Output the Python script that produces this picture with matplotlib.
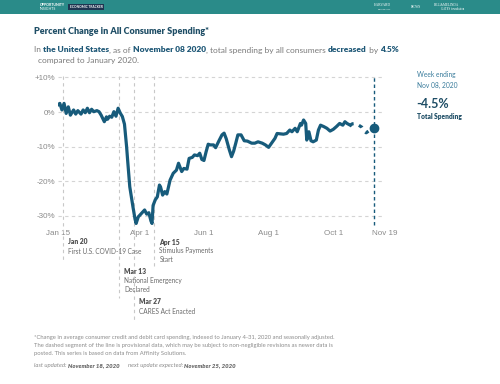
import numpy as np
import pandas as pd
import matplotlib
matplotlib.use('Agg')
import matplotlib.pyplot as plt
from matplotlib.patches import Rectangle

# % change in consumer card spending vs January 2020 (7-day avg), by day of year 2020
days = [15, 17, 19, 21, 23, 25, 27, 30, 32, 34,
        37, 39, 41, 43, 45, 47, 49, 52, 54, 56,
        59, 61, 62, 64, 66, 68, 70, 72, 74, 76,
        78, 80, 81, 83, 86, 88, 89, 91, 94, 97,
        99, 101, 103, 104, 105, 107, 109, 111, 112, 114,
        116, 118, 121, 124, 127, 129, 132, 134, 137, 139,
        142, 144, 147, 149, 151, 153, 155, 157, 159, 162,
        164, 167, 170, 172, 174, 177, 179, 181, 183, 185,
        188, 191, 194, 198, 201, 204, 208, 211, 214, 217,
        220, 222, 225, 228, 231, 234, 236, 239, 241, 244,
        245, 247, 249, 250, 252, 254, 256, 259, 261, 263,
        266, 269, 272, 275, 278, 281, 284, 286, 288, 291]
vals = [2.0, 2.5, 0.6, 2.5, -0.4, 1.5, -0.9, 0.6, -0.6, 0.4,
        -0.6, 0.6, -0.2, 1.1, -0.2, 0.8, 0.1, 0.4, 0.1, -0.9,
        -2.8, -1.4, -2.1, -1.2, -1.5, 0.1, -1.2, 1.1, -0.3, -1.3,
        -3.5, -10.0, -14.0, -21.6, -27.4, -31.0, -32.2, -30.3, -29.3, -28.3,
        -29.5, -29.1, -31.5, -32.2, -27.0, -25.4, -24.5, -21.1, -21.6, -24.0,
        -23.0, -23.7, -19.7, -17.7, -16.8, -14.8, -17.2, -16.3, -16.5, -13.4,
        -13.1, -12.4, -12.6, -11.9, -13.7, -14.0, -11.5, -9.3, -9.5, -9.5,
        -10.3, -8.4, -6.6, -6.1, -7.7, -11.0, -12.9, -11.3, -9.0, -6.6,
        -6.6, -8.3, -8.4, -9.0, -9.0, -8.6, -9.0, -9.5, -10.2, -8.9,
        -7.6, -6.2, -6.3, -6.4, -6.2, -5.2, -5.7, -4.7, -5.7, -3.3,
        -3.8, -2.3, -3.3, -8.1, -5.7, -8.3, -8.6, -8.1, -5.2, -3.8,
        -4.2, -4.7, -5.5, -5.0, -4.2, -3.3, -3.8, -2.8, -3.3, -3.8]
# provisional tail (dashed) ending at the last value
prov_days = [291, 293, 296, 299, 302, 304, 306, 313]
prov_vals = [-3.8, -3.4, -3.3, -3.8, -4.4, -5.4, -6.0, -4.5]
last_date = '2020-11-08'
last_val = -4.5

yticks = [10, 0, -10, -20, -30]
ytick_labels = ['+10%', '0%', '-10%', '-20%', '-30%']
xtick_dates = ['2020-01-15', '2020-04-01', '2020-06-01', '2020-08-01', '2020-10-01', '2020-11-19']
xtick_labels = ['Jan 15', 'Apr 1', 'Jun 1', 'Aug 1', 'Oct 1', 'Nov 19']

event_dates = ['2020-01-20', '2020-03-13', '2020-03-27', '2020-04-15']
event_titles = ['Jan 20', 'Mar 13', 'Mar 27', 'Apr 15']
event_texts = [['First U.S. COVID-19 Case'], ['National Emergency', 'Declared'],
               ['CARES Act Enacted'], ['Stimulus Payments', 'Start']]

base = pd.Timestamp('2019-12-31')
dates = base + pd.to_timedelta(days, unit='D')
prov_dates = base + pd.to_timedelta(prov_days, unit='D')

LINE = '#175b7b'
DARK = '#1f4e66'
GRAY = '#7a7a7a'
TXT = 'Lato'

W, H = 500, 384
fig = plt.figure(figsize=(5, 3.84), dpi=100)
fig.patch.set_facecolor('white')

def fx(px):
    return px / W

def fy(py):
    return 1 - py / H

# axes placement (pixels)
top_px, bot_px = 75.7, 224.5
ax = fig.add_axes([fx(57.7), fy(bot_px), fx(385.2) - fx(57.7), (bot_px - top_px) / H])
ax.set_xlim(pd.Timestamp('2020-01-15'), pd.Timestamp('2020-11-19'))
ax.set_ylim(-32.5, 10.5)
for s in ax.spines.values():
    s.set_visible(False)
ax.set_yticks(yticks)
ax.set_yticklabels(ytick_labels, fontfamily='Liberation Sans', fontsize=5.8, color='#8a8a8a')
ax.set_xticks(pd.to_datetime(xtick_dates))
ax.set_xticklabels(xtick_labels, fontfamily='Liberation Sans', fontsize=5.8, color='#8a8a8a')
ax.tick_params(length=0, pad=2)
ax.tick_params(axis='x', pad=4)
ax.grid(axis='y', color='#d4d4d4', linestyle=(0, (3, 3)), linewidth=0.8)
ax.set_axisbelow(True)

# event lines reaching down into the annotations
ev_bottom_px = [260, 298, 320, 268]
ev_title_px = [242, 272, 302, 242]
for d, b, tpx, title, lines in zip(event_dates, ev_bottom_px, ev_title_px, event_titles, event_texts):
    d = pd.Timestamp(d)
    yb = (bot_px - b) / (bot_px - top_px)
    ax.plot([d, d], [1, yb], transform=ax.get_xaxis_transform(), color='#c8c8c8',
            linestyle=(0, (3, 3)), linewidth=0.8, clip_on=False, zorder=1)
    ya = (bot_px - tpx) / (bot_px - top_px)
    ax.annotate(title, xy=(d, ya), xycoords=('data', 'axes fraction'), xytext=(3.8, 0),
                textcoords='offset points', va='center', ha='left', fontsize=4.9,
                fontweight='heavy', color='#505050', fontfamily=TXT, annotation_clip=False)
    for i, ln in enumerate(lines):
        ya = (bot_px - tpx - 9 * (i + 1)) / (bot_px - top_px)
        ax.annotate(ln, xy=(d, ya), xycoords=('data', 'axes fraction'), xytext=(3.8, 0),
                    textcoords='offset points', va='center', ha='left', fontsize=4.7,
                    color='#6a6a6a', fontfamily=TXT, annotation_clip=False)

# last-date marker line
ld = pd.Timestamp(last_date)
ax.plot([ld, ld], [0, 1], transform=ax.get_xaxis_transform(), color=LINE,
        linestyle=(0, (2.5, 2)), linewidth=1.0, clip_on=False, zorder=2)

ax.plot(dates, vals, color=LINE, linewidth=2.3, solid_joinstyle='round', zorder=3)
ax.plot(prov_dates, prov_vals, color=LINE, linewidth=2.3, linestyle=(0, (1.2, 1.8)), zorder=3)
ax.plot([ld], [last_val], 'o', color=LINE, markersize=6, zorder=4)

# header bar
fig.patches.append(Rectangle((0, fy(14)), 1, 14 / H, transform=fig.transFigure,
                             facecolor='#2a8b89', edgecolor='none'))
fig.patches.append(Rectangle((fx(68), fy(10)), fx(36), 6 / H, transform=fig.transFigure,
                             facecolor='#1e3550', edgecolor='none'))
fig.text(fx(40), fy(5), 'OPPORTUNITY', fontsize=2.6, color='white', fontweight='bold', va='center', fontfamily=TXT)
fig.text(fx(40), fy(9), 'INSIGHTS', fontsize=2.6, color='white', va='center', fontfamily=TXT)
fig.text(fx(86), fy(7), 'ECONOMIC TRACKER', fontsize=2.3, color='white', fontweight='bold', va='center', ha='center', fontfamily=TXT)
fig.text(fx(374), fy(5.5), 'HARVARD', fontsize=2.6, color='white', va='center', fontfamily='Liberation Serif')
fig.text(fx(378), fy(9), 'UNIVERSITY', fontsize=1.6, color='white', va='center', fontfamily='Liberation Serif')
fig.text(fx(411), fy(7), 'BROWN', fontsize=2.0, color='white', va='center', fontfamily='Liberation Serif')
fig.text(fx(434), fy(5), 'BILL&MELINDA', fontsize=2.4, color='white', va='center', fontfamily='Liberation Serif')
fig.text(fx(441), fy(9), 'GATES foundation', fontsize=2.2, color='white', va='center', fontfamily='Liberation Serif')

# title
fig.text(fx(34), fy(31), 'Percent Change in All Consumer Spending*', fontsize=6.5,
         fontweight='heavy', color=DARK, va='center', fontfamily=TXT)

renderer = fig.canvas.get_renderer()

def rich(x, y, parts, size):
    for s, weight, style, color in parts:
        t = fig.text(x, y, s, fontsize=size, fontweight=weight, fontstyle=style,
                     color=color, va='center', ha='left', fontfamily=TXT)
        x += t.get_window_extent(renderer=renderer).width / fig.bbox.width
    return x

BL = '#1f5877'
rich(fx(34), fy(50), [('In ', 'normal', 'normal', GRAY),
                      ('the United States', 'heavy', 'normal', BL),
                      (', as of ', 'normal', 'normal', GRAY),
                      ('November 08 2020', 'heavy', 'normal', BL),
                      (', total spending by all consumers ', 'normal', 'normal', GRAY),
                      ('decreased', 'heavy', 'normal', BL),
                      (' by ', 'normal', 'normal', GRAY),
                      ('4.5%', 'heavy', 'normal', BL)], 6.0)
fig.text(fx(38.5), fy(60), 'compared to January 2020.', fontsize=6.0, color=GRAY,
         va='center', fontfamily=TXT)

# right-side readout
RC = '#3a7c9c'
fig.text(fx(417), fy(75), 'Week ending', fontsize=4.8, color=RC, va='center', fontfamily=TXT)
fig.text(fx(417), fy(85), 'Nov 08, 2020', fontsize=4.8, color=RC, va='center', fontfamily=TXT)
fig.text(fx(416.5), fy(104), '-4.5%', fontsize=9.0, color=DARK, fontweight='bold', va='center', fontfamily=TXT)
fig.text(fx(417), fy(117), 'Total Spending', fontsize=4.8, color=DARK, fontweight='heavy',
         va='center', fontfamily=TXT)

# footnote
FN = '#8c8c8c'
foot = ['*Change in average consumer credit and debit card spending, indexed to January 4-31, 2020 and seasonally adjusted.',
        'The dashed segment of the line is provisional data, which may be subject to non-negligible revisions as newer data is',
        'posted. This series is based on data from Affinity Solutions.']
for i, ln in enumerate(foot):
    fig.text(fx(34), fy(338 + 8 * i), ln, fontsize=4.2, color=FN, va='center', fontfamily=TXT)
rich(fx(34), fy(365.5), [('last updated: ', 'normal', 'italic', FN),
                         ('November 18, 2020', 'heavy', 'italic', '#6a6a6a')], 4.3)
rich(fx(128), fy(365.5), [('next update expected: ', 'normal', 'italic', FN),
                          ('November 25, 2020', 'heavy', 'italic', '#6a6a6a')], 4.3)

fig.savefig('out.png', dpi=100)
